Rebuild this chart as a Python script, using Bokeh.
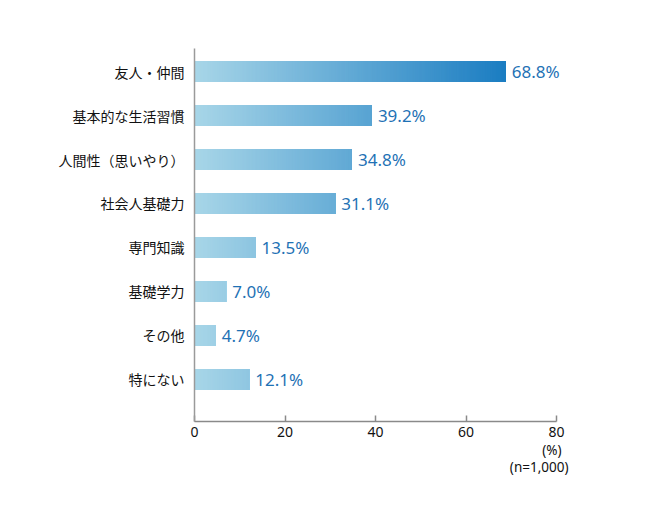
from bokeh.plotting import figure
from bokeh.models import Range1d, FixedTicker, ColumnDataSource, Title
from bokeh.embed import file_html
from bokeh.resources import INLINE
from bokeh.core.properties import value

categories = ["友人・仲間", "基本的な生活習慣", "人間性（思いやり）", "社会人基礎力",
              "専門知識", "基礎学力", "その他", "特にない"]
values = [68.8, 39.2, 34.8, 31.1, 13.5, 7.0, 4.7, 12.1]
x_ticks = [0, 20, 40, 60, 80]

JP = "Noto Sans CJK JP"
NUM = "Noto Sans"

c0 = (168, 214, 232)
c1 = (27, 125, 194)
vmax = max(values)

def grad(x):
    t = max(0.0, min(1.0, x / vmax))
    return "#%02x%02x%02x" % tuple(int(round(a + (b - a) * t)) for a, b in zip(c0, c1))

# frame spans x 194..620 px; value 80 falls at 556 px
p = figure(width=650, height=509, output_backend="svg", toolbar_location=None,
           x_range=Range1d(0, 80 * 426 / 362), y_range=Range1d(7.955, -0.523),
           min_border_left=194, min_border_right=30, min_border_top=48, min_border_bottom=88)
p.outline_line_color = None
p.grid.visible = False
p.background_fill_color = "white"
p.border_fill_color = "white"

# gradient bars: overlapping layers, each from x to the bar end
left, right, top, bottom, color = [], [], [], [], []
step = 0.25
for i, v in enumerate(values):
    x = 0.0
    while x < v - 1e-9:
        x2 = min(v, x + step)
        left.append(x)
        right.append(v)
        top.append(i - 0.24)
        bottom.append(i + 0.24)
        color.append(grad((x + x2) / 2))
        x = x2
src = ColumnDataSource(dict(left=left, right=right, top=top, bottom=bottom, color=color))
p.quad(left="left", right="right", top="top", bottom="bottom", fill_color="color",
       line_color=None, source=src)

# value labels
lab = ColumnDataSource(dict(x=values, y=list(range(len(values))),
                            t=["%.1f%%" % v for v in values]))
p.text(x="x", y="y", text="t", source=lab, x_offset=6, text_align="left",
       text_baseline="middle", text_color="#1f72b5", text_font_size="17px",
       text_font=value(NUM))

# axes
xa = p.xaxis[0]
xa.ticker = FixedTicker(ticks=x_ticks)
xa.bounds = (0, 80)
xa.axis_line_color = "#8a8a8a"
xa.axis_line_width = 1.5
xa.major_tick_in = 6
xa.major_tick_out = 0
xa.major_tick_line_color = "#8a8a8a"
xa.major_tick_line_width = 1.5
xa.minor_tick_line_color = None
xa.major_label_text_font_size = "14px"
xa.major_label_text_color = "#111111"
xa.major_label_text_font = NUM
xa.major_label_standoff = 5

ya = p.yaxis[0]
ya.ticker = FixedTicker(ticks=list(range(len(categories))))
ya.major_label_overrides = {i: c for i, c in enumerate(categories)}
ya.axis_line_color = "#9a9a9a"
ya.axis_line_width = 1.5
ya.major_tick_line_color = None
ya.minor_tick_line_color = None
ya.major_label_text_font_size = "14px"
ya.major_label_text_color = "#111111"
ya.major_label_text_font = JP
ya.major_label_standoff = 4

# notes below the axis
p.add_layout(Title(text="(%)", align="right", offset=59, standoff=-2,
                   text_font_size="13.5px", text_font_style="normal",
                   text_color="#111111", text_font=NUM), "below")
p.add_layout(Title(text="(n=1,000)", align="right", offset=52, standoff=-4,
                   text_font_size="13.5px", text_font_style="normal",
                   text_color="#111111", text_font=NUM), "below")

open("out.html", "w").write(file_html(p, INLINE))
